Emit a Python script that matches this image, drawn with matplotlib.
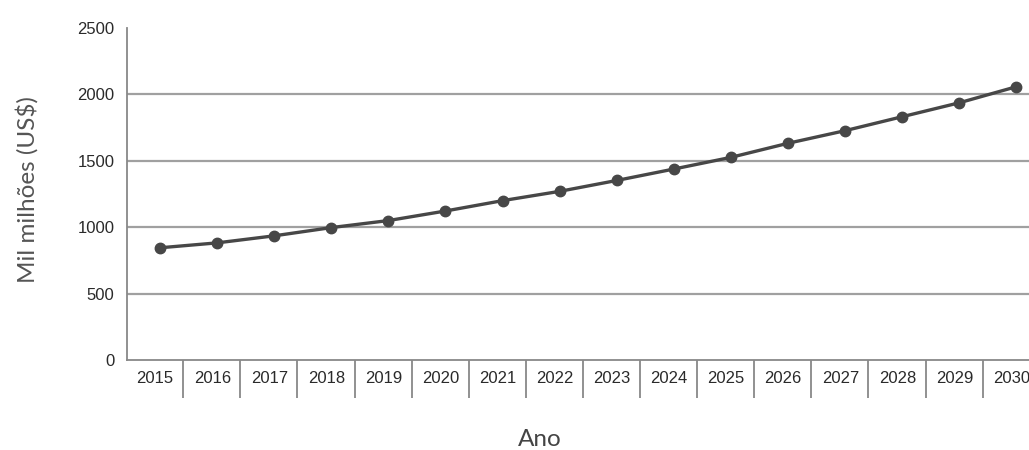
import matplotlib
matplotlib.use("Agg")
import matplotlib.pyplot as plt
import numpy as np

years = ["2015", "2016", "2017", "2018", "2019", "2020", "2021", "2022",
         "2023", "2024", "2025", "2026", "2027", "2028", "2029", "2030"]
values = [845, 882, 935, 997, 1050, 1122, 1200, 1270,
          1352, 1438, 1526, 1632, 1727, 1832, 1937, 2058]
yticks = [0, 500, 1000, 1500, 2000, 2500]

W, H = 1029, 450
fig = plt.figure(figsize=(W / 100, H / 100), dpi=100)
left_px, right_px, top_px, bottom_px = 127, 1029, 28, 360
ax = fig.add_axes([left_px / W, (H - bottom_px) / H,
                   (right_px - left_px) / W, (bottom_px - top_px) / H])

x = np.arange(len(years))
ax.plot(x, values, color="#474747", lw=2.4, marker="o", ms=7.5,
        mec="#474747", mfc="#474747", zorder=3, solid_capstyle="round")

ax.set_ylim(0, 2500)
ax.set_xlim(-0.578, 15.22)

for v in yticks[1:-1]:
    ax.axhline(v, color="#a0a0a0", lw=1.6, zorder=1)

ax.set_yticks(yticks)
ax.set_yticklabels([str(v) for v in yticks], fontsize=12, color="#2a2a2a",
                   family="Liberation Sans")
ax.tick_params(axis="y", length=0, pad=9)

# category dividers as ticks, labels centred in bands
div = x[:-1] + 0.408
ax.set_xticks(div)
ax.set_xticklabels([])
ax.tick_params(axis="x", which="major", length=27, width=1.3, color="#888888",
               direction="out")
centers = x - 0.085
ax.set_xticks(centers, minor=True)
ax.set_xticklabels(years, minor=True, fontsize=12, color="#2a2a2a",
                   family="Liberation Sans")
ax.tick_params(axis="x", which="minor", length=0, pad=8)

for s in ["top", "right"]:
    ax.spines[s].set_visible(False)
ax.spines["left"].set_color("#888888")
ax.spines["left"].set_linewidth(1.3)
ax.spines["bottom"].set_color("#888888")
ax.spines["bottom"].set_linewidth(1.3)

fig.text(540 / W, 1 - 439 / H, "Ano", ha="center", va="center",
         fontsize=17.5, color="#444444", family="Lato")
fig.text(27 / W, 1 - 190 / H, "Mil milhões (US$)", ha="center", va="center",
         rotation=90, fontsize=17.5, color="#555555", family="Lato")

fig.savefig("out.png", dpi=100)
